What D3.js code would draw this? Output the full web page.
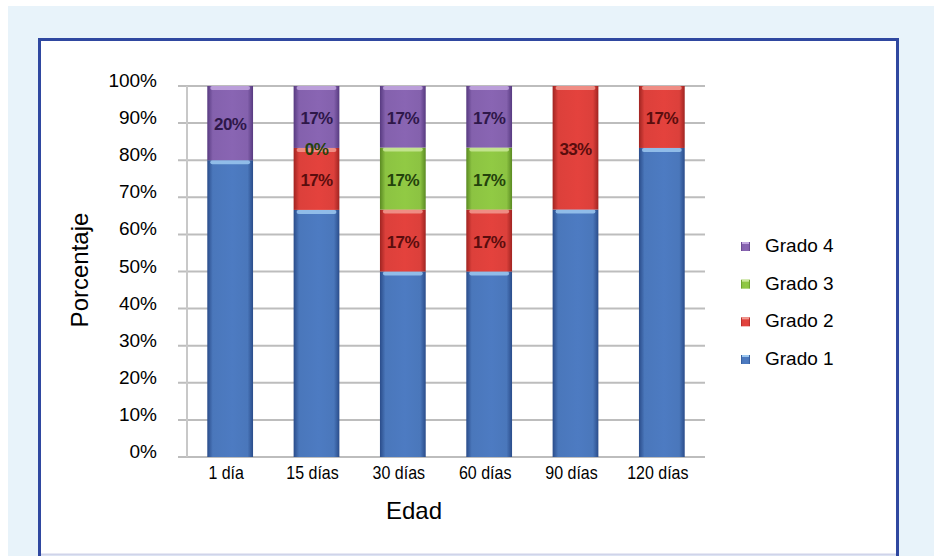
<!DOCTYPE html>
<html>
<head>
<meta charset="utf-8">
<script src="https://cdn.jsdelivr.net/npm/d3@7"></script>
<style>
  body { margin: 0; background: #fff; }
  svg { display: block; font-family: "Liberation Sans", Arial, sans-serif; }
</style>
</head>
<body>
<div id="chart"></div>
<script>
var svgWidth = 934;
var svgHeight = 556;

// data
var categories = ["1 día", "15 días", "30 días", "60 días", "90 días", "120 días"];
var grado1 = [80, 66.6, 50, 50, 66.7, 83.3];
var grado2 = [0, 16.7, 16.7, 16.7, 33.3, 16.7];
var grado3 = [0, 0, 16.7, 16.7, 0, 0];
var grado4 = [20, 16.7, 16.6, 16.6, 0, 0];
var labels1 = [null, null, null, null, null, null];
var labels2 = [null, "17%", "17%", "17%", "33%", "17%"];
var labels3 = [null, "0%", "17%", "17%", null, null];
var labels4 = ["20%", "17%", "17%", "17%", null, null];
var seriesNames = ["Grado 1", "Grado 2", "Grado 3", "Grado 4"];
var yTicks = [0, 10, 20, 30, 40, 50, 60, 70, 80, 90, 100];

var seriesValues = [grado1, grado2, grado3, grado4];
var seriesLabels = [labels1, labels2, labels3, labels4];

// colours per series: base, dark edge, light cap, label text
var palette = [
  { base: "#4a77bb", dark: "#2a4c8a", cap: "#9cc8f0", text: "#1c2f5a" },
  { base: "#dc403b", dark: "#a02421", cap: "#f29a90", text: "#5a0d0d" },
  { base: "#8cc342", dark: "#5a8a22", cap: "#cbe89a", text: "#24420c" },
  { base: "#8461ad", dark: "#573a80", cap: "#c3a8e0", text: "#2e1749" }
];

var svg = d3.select("#chart")
  .append("svg")
  .attr("width", svgWidth)
  .attr("height", svgHeight);

// outer light blue panel and white framed box
svg.append("rect")
  .attr("x", 8).attr("y", 6)
  .attr("width", svgWidth - 8).attr("height", svgHeight - 6)
  .attr("fill", "#e8f3fa");

svg.append("rect")
  .attr("x", 41).attr("y", 41)
  .attr("width", 855).attr("height", 513)
  .attr("fill", "#ffffff");

svg.append("path")
  .attr("d", "M39.5,556 V39.5 H897.5 V556")
  .attr("fill", "none")
  .attr("stroke", "#2f48a0")
  .attr("stroke-width", 3);

svg.append("line")
  .attr("x1", 41).attr("x2", 896)
  .attr("y1", 554.5).attr("y2", 554.5)
  .attr("stroke", "#d0d4ea")
  .attr("stroke-width", 2);

// scales
var xScale = d3.scaleBand()
  .domain(categories)
  .range([187, 705])
  .paddingInner(0.47)
  .paddingOuter(0.235);

var yScale = d3.scaleLinear()
  .domain([0, 100])
  .range([457, 86]);

// gradients
var defs = svg.append("defs");
palette.forEach(function(p, i) {
  var g = defs.append("linearGradient")
    .attr("id", "grad" + i)
    .attr("x1", "0%").attr("x2", "100%")
    .attr("y1", "0%").attr("y2", "0%");
  g.append("stop").attr("offset", "0%").attr("stop-color", p.dark);
  g.append("stop").attr("offset", "12%").attr("stop-color", p.base);
  g.append("stop").attr("offset", "55%").attr("stop-color", d3.color(p.base).brighter(0.1));
  g.append("stop").attr("offset", "88%").attr("stop-color", p.base);
  g.append("stop").attr("offset", "100%").attr("stop-color", p.dark);
});

// grid
var grid = svg.append("g");
grid.selectAll("line.h")
  .data(yTicks)
  .enter()
  .append("line")
  .attr("x1", 178).attr("x2", 705)
  .attr("y1", d => yScale(d)).attr("y2", d => yScale(d))
  .attr("stroke", "#bdbdbd")
  .attr("stroke-width", 2);

grid.append("line")
  .attr("x1", 187).attr("x2", 187)
  .attr("y1", yScale(100)).attr("y2", yScale(0))
  .attr("stroke", "#c8c8c8")
  .attr("stroke-width", 2);

// stacked data
var rows = categories.map(function(c, i) {
  var row = { cat: c };
  seriesValues.forEach(function(s, k) { row["s" + k] = s[i]; });
  return row;
});
var stack = d3.stack().keys(["s0", "s1", "s2", "s3"]);
var stacked = stack(rows);

var bw = xScale.bandwidth();

var layers = svg.selectAll("g.layer")
  .data(stacked)
  .enter()
  .append("g")
  .attr("class", "layer");

layers.each(function(layer, k) {
  var g = d3.select(this);
  var segs = layer.filter(d => d[1] - d[0] > 0);

  g.selectAll("rect.bar")
    .data(segs)
    .enter()
    .append("rect")
    .attr("x", d => xScale(d.data.cat))
    .attr("y", d => yScale(d[1]))
    .attr("width", bw)
    .attr("height", d => yScale(d[0]) - yScale(d[1]))
    .attr("fill", "url(#grad" + k + ")");

  // light cap on top of each segment
  g.selectAll("rect.cap")
    .data(segs)
    .enter()
    .append("rect")
    .attr("x", d => xScale(d.data.cat) + 3)
    .attr("y", d => yScale(d[1]))
    .attr("width", bw - 6)
    .attr("height", 4)
    .attr("rx", 2)
    .attr("fill", palette[k].cap)
    .attr("opacity", 0.85);
});

// data labels
seriesLabels.forEach(function(labs, k) {
  var layer = stacked[k];
  svg.append("g")
    .selectAll("text")
    .data(layer.filter((d, i) => labs[i] !== null))
    .enter()
    .append("text")
    .attr("x", d => xScale(d.data.cat) + bw / 2)
    .attr("y", d => (yScale(d[0]) + yScale(d[1])) / 2 + 7)
    .attr("text-anchor", "middle")
    .attr("font-size", 17)
    .attr("font-weight", "bold")
    .attr("letter-spacing", -0.6)
    .attr("fill", palette[k].text)
    .text(d => labs[layer.indexOf(d)]);
});

// y axis labels
svg.append("g")
  .selectAll("text")
  .data(yTicks)
  .enter()
  .append("text")
  .attr("x", 157)
  .attr("y", d => yScale(d) + 1)
  .attr("text-anchor", "end")
  .attr("font-size", 19)
  .attr("fill", "#000")
  .text(d => d + "%");

// x axis labels, slightly taller than wide as in the picture
svg.append("g")
  .selectAll("text")
  .data(categories)
  .enter()
  .append("text")
  .attr("transform", d => `translate(${xScale(d) + bw / 2 - 4}, 479) scale(1, 1.15)`)
  .attr("text-anchor", "middle")
  .attr("font-size", 16)
  .attr("fill", "#000")
  .text(d => d);

// axis titles
svg.append("text")
  .attr("x", 414)
  .attr("y", 519)
  .attr("text-anchor", "middle")
  .attr("font-size", 24)
  .attr("fill", "#000")
  .text("Edad");

svg.append("text")
  .attr("transform", "translate(88, 270) rotate(-90)")
  .attr("text-anchor", "middle")
  .attr("font-size", 24)
  .attr("fill", "#000")
  .text("Porcentaje");

// legend, top entry is Grado 4
var legendY = d3.scalePoint()
  .domain(seriesNames.slice().reverse())
  .range([245, 358]);

var legend = svg.append("g")
  .selectAll("g")
  .data(seriesNames)
  .enter()
  .append("g")
  .attr("transform", d => `translate(741, ${legendY(d)})`);

legend.append("rect")
  .attr("x", 0).attr("y", -3)
  .attr("width", 9).attr("height", 9)
  .attr("fill", (d, i) => "url(#grad" + i + ")");

legend.append("rect")
  .attr("x", 1).attr("y", -3)
  .attr("width", 7).attr("height", 2)
  .attr("fill", (d, i) => palette[i].cap);

legend.append("text")
  .attr("x", 24)
  .attr("y", 7)
  .attr("font-size", 19)
  .attr("fill", "#000")
  .text(d => d);
</script>
</body>
</html>
